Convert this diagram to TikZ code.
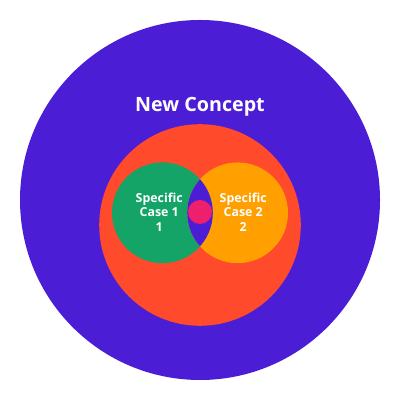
\documentclass[tikz,border=0pt]{standalone}
\usepackage{fontspec}
\setmainfont{Open Sans}
\usetikzlibrary{positioning}
\definecolor{ConceptBlue}{HTML}{4B1ED6}
\definecolor{ConceptRed}{HTML}{FF4A2B}
\definecolor{CaseGreen}{HTML}{14A468}
\definecolor{CaseOrange}{HTML}{FF9F00}
\definecolor{CorePink}{HTML}{EE1F6C}

\begin{document}
\begin{tikzpicture}
    \useasboundingbox (0,0) rectangle (10,10);
    \coordinate (c) at (5,5);
    \coordinate (r) at (5,4.375);
    \coordinate (a) at (4.06,4.68);
    \coordinate (b) at (5.94,4.68);
    \fill[ConceptBlue] (c) circle (4.5cm);
    \fill[ConceptRed] (r) circle (2.52cm);
    \fill[CaseGreen] (a) circle (1.26cm);
    \fill[CaseOrange] (b) circle (1.26cm);
    \begin{scope}
      \clip (a) circle (1.26cm);
      \fill[ConceptBlue] (b) circle (1.26cm);
    \end{scope}
    \fill[CorePink] (5,4.7) circle (0.3cm);
    \node[text=white,font=\bfseries\fontsize{14}{16}\selectfont] (title) at (5,7.34) {New Concept};
    \node[align=center,text=white,font=\bfseries\fontsize{8.8}{10.3}\selectfont] (case1) at (3.98,4.7) {Specific\\Case 1\\1};
    \node[align=center,text=white,font=\bfseries\fontsize{8.8}{10.3}\selectfont] (case2) at (6.08,4.7) {Specific\\Case 2\\2};
  \end{tikzpicture}
\end{document}
